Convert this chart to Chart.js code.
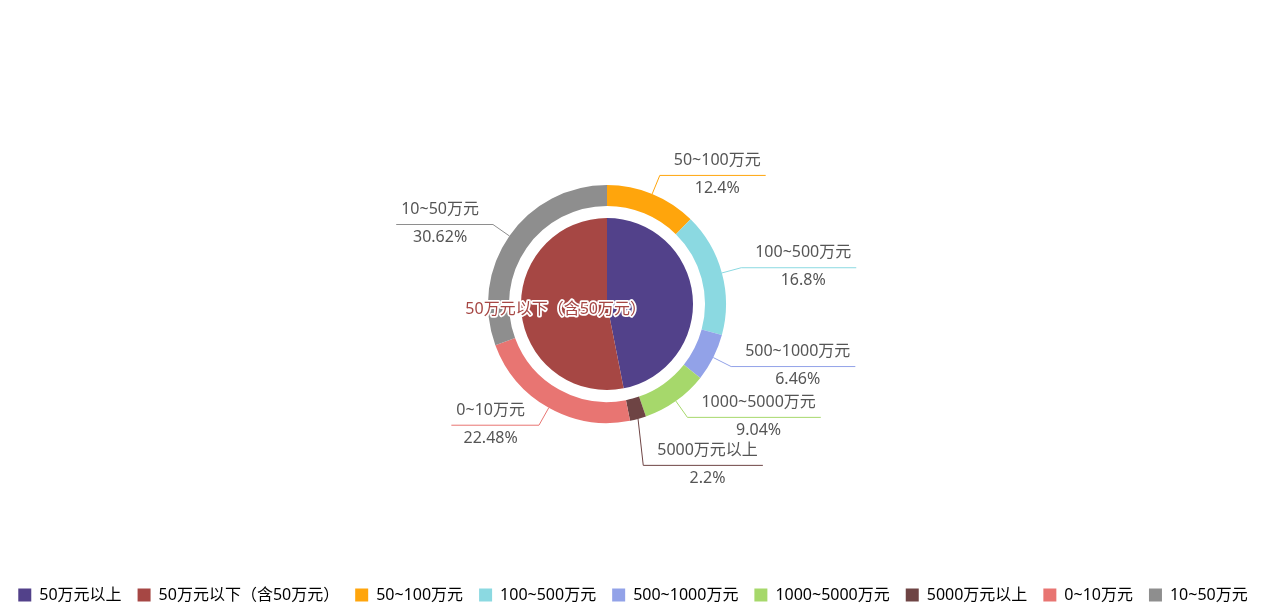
<!DOCTYPE html>
<html>
<head>
<meta charset="utf-8">
<script src="https://cdn.jsdelivr.net/npm/chart.js@4/dist/chart.umd.min.js"></script>
<style>
  html, body { margin: 0; padding: 0; background: #fff; }
  #wrap { width: 1266px; height: 610px; }
</style>
</head>
<body>
<div id="wrap"><canvas id="grafico"></canvas></div>
<script>
// dados
const categoriasInternas = ["50万元以上", "50万元以下（含50万元）"];
const valoresInternos = [46.9, 53.1];
const coresInternas = ["#52418a", "#a64744"];

const categoriasExternas = ["50~100万元", "100~500万元", "500~1000万元", "1000~5000万元", "5000万元以上", "0~10万元", "10~50万元"];
const valoresExternos = [12.4, 16.8, 6.46, 9.04, 2.2, 22.48, 30.62];
const coresExternas = ["#ffa50c", "#8bd9e1", "#92a2e8", "#a6d86b", "#6e4444", "#e87572", "#8e8e8e"];

const fonte = '"Noto Sans", "Noto Sans CJK SC", sans-serif';

// posiciona a área do gráfico (centro da pizza fora do centro da tela)
const areaPizza = {
  id: "areaPizza",
  afterLayout(chart) {
    const a = chart.chartArea;
    a.left = 0; a.right = 1214; a.top = 0; a.bottom = 608;
    a.width = a.right - a.left; a.height = a.bottom - a.top;
    if (chart.legend) { chart.legend.top += 3; chart.legend.bottom += 3; }
  }
};

// rótulos com linha guia no anel externo e rótulo central da pizza
const rotulos = {
  id: "rotulos",
  afterDatasetsDraw(chart) {
    const ctx = chart.ctx;
    ctx.save();
    ctx.font = "16px " + fonte;
    ctx.textBaseline = "middle";

    const meta = chart.getDatasetMeta(0);
    const itens = meta.data.map((arc, i) => {
      const p = arc.getProps(["x", "y", "startAngle", "endAngle", "outerRadius"], true);
      const meio = (p.startAngle + p.endAngle) / 2;
      const cos = Math.cos(meio), sin = Math.sin(meio);
      return {
        i,
        direita: cos >= 0,
        x0: p.x + cos * p.outerRadius,
        y0: p.y + sin * p.outerRadius,
        x1: p.x + cos * (p.outerRadius + 20),
        y1: p.y + sin * (p.outerRadius + 20)
      };
    });

    // evita sobreposição empurrando para baixo
    [true, false].forEach((lado) => {
      const grupo = itens.filter((it) => it.direita === lado).sort((a, b) => a.y1 - b.y1);
      for (let k = 1; k < grupo.length; k++) {
        if (grupo[k].y1 - grupo[k - 1].y1 < 48) grupo[k].y1 = grupo[k - 1].y1 + 48;
      }
    });

    itens.forEach((it) => {
      const nome = categoriasExternas[it.i];
      const pct = valoresExternos[it.i] + "%";
      const larg = Math.max(ctx.measureText(nome).width, ctx.measureText(pct).width);
      const s = it.direita ? 1 : -1;
      const x2 = it.x1 + s * (14 + larg + 5);
      const cx = it.x1 + s * (14 + larg / 2);

      ctx.strokeStyle = coresExternas[it.i];
      ctx.lineWidth = 1;
      ctx.beginPath();
      ctx.moveTo(it.x0, it.y0);
      ctx.lineTo(it.x1, it.y1);
      ctx.lineTo(x2, it.y1);
      ctx.stroke();

      ctx.fillStyle = "#555";
      ctx.textAlign = "center";
      ctx.fillText(nome, cx, it.y1 - 15);
      ctx.fillText(pct, cx, it.y1 + 13);
    });

    // rótulo interno
    const arcInt = chart.getDatasetMeta(2).data[1];
    const q = arcInt.getProps(["x", "y", "startAngle", "endAngle", "outerRadius"], true);
    const m = (q.startAngle + q.endAngle) / 2;
    const tx = q.x + Math.cos(m) * q.outerRadius * 0.6;
    const ty = q.y + Math.sin(m) * q.outerRadius * 0.6;
    ctx.textAlign = "center";
    ctx.lineJoin = "round";
    ctx.lineWidth = 3.5;
    ctx.strokeStyle = "#fff";
    ctx.strokeText(categoriasInternas[1], tx, ty);
    ctx.fillStyle = coresInternas[1];
    ctx.fillText(categoriasInternas[1], tx, ty);
    ctx.restore();
  }
};

new Chart(document.getElementById("grafico"), {
  type: "doughnut",
  data: {
    labels: categoriasExternas,
    datasets: [
      { data: valoresExternos, backgroundColor: coresExternas, weight: 21 },
      { data: [1], backgroundColor: ["rgba(0,0,0,0)"], weight: 12 },
      { data: valoresInternos, backgroundColor: coresInternas, weight: 86 }
    ]
  },
  options: {
    responsive: true,
    maintainAspectRatio: false,
    animation: false,
    events: [],
    cutout: 0,
    radius: 119,
    borderWidth: 0,
    layout: { padding: 0 },
    plugins: {
      tooltip: { enabled: false },
      legend: {
        position: "bottom",
        labels: {
          boxWidth: 13,
          boxHeight: 13,
          padding: 16,
          color: "#444",
          font: { size: 16, family: fonte },
          generateLabels() {
            const nomes = categoriasInternas.concat(categoriasExternas);
            const cores = coresInternas.concat(coresExternas);
            return nomes.map((t, i) => ({
              text: t,
              fillStyle: cores[i],
              strokeStyle: cores[i],
              lineWidth: 0,
              hidden: false,
              index: i
            }));
          }
        }
      }
    }
  },
  plugins: [areaPizza, rotulos]
});
</script>
</body>
</html>
